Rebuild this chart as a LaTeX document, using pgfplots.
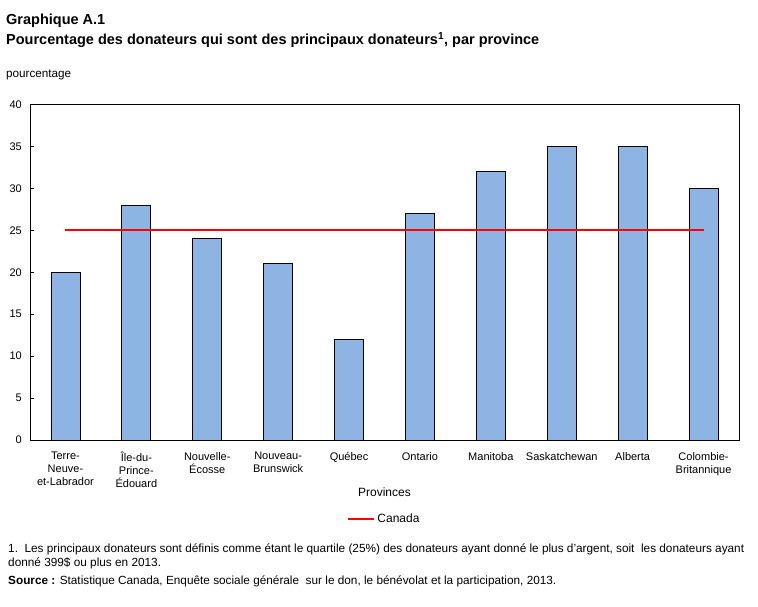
\documentclass[border=0pt]{standalone}
\usepackage{pgfplots}
\pgfplotsset{compat=1.18}
\usepackage{fontspec}
\setmainfont{Liberation Sans}
\definecolor{barblue}{HTML}{8DB4E2}
\begin{document}
\begin{tikzpicture}[x=1pt,y=1pt]
\path (0,0) rectangle (758,-607);
\node[anchor=base west,inner sep=0pt,font=\fontsize{14.5}{16}\selectfont\bfseries] at (6,-25) {Graphique A.1};
\node[anchor=base west,inner sep=0pt,font=\fontsize{14.5}{16}\selectfont\bfseries] at (6,-45) {Pourcentage des donateurs qui sont des principaux donateurs\textsuperscript{1}, par province};
\node[anchor=base west,inner sep=0pt,font=\fontsize{11.7}{13}\selectfont] at (6,-78) {pourcentage};
\begin{axis}[
  at={(30pt,-440pt)}, anchor=south west,
  scale only axis, width=709pt, height=335.5pt,
  xmin=-0.5, xmax=9.5, ymin=0, ymax=40,
  ytick={0,5,...,40},
  xtick={0,...,9},
  xticklabels={Terre-\\Neuve-\\et-Labrador, Île-du-\\Prince-\\Édouard, Nouvelle-\\Écosse, Nouveau-\\Brunswick, Québec, Ontario, Manitoba, Saskatchewan, Alberta, Colombie-\\Britannique},
  xticklabel style={align=center, font=\fontsize{11}{13}\selectfont, inner sep=0pt, yshift=-12pt},
  yticklabel style={font=\fontsize{11}{13}\selectfont, inner sep=0pt, xshift=-8pt},
  /pgf/number format/assume math mode=true,
  x tick style={draw=none},
  y tick style={black, line width=0.8pt},
  major tick length=4pt,
  tick align=inside,
  ytick pos=left,
  axis line style={black, line width=0.9pt},
  xlabel={Provinces},
  xlabel style={font=\fontsize{12}{14}\selectfont, at={(axis description cs:0.5,0)}, anchor=base, yshift=-56pt},
  legend style={at={(axis description cs:0.5,0)}, anchor=north, yshift=-72pt, draw=none, font=\fontsize{12}{14}\selectfont, legend cell align=left, inner sep=0pt},
  legend image code/.code={\draw[#1, line width=2pt] (0pt,0pt) -- (26pt,0pt);},
]
\addplot[ybar, bar width=29pt, fill=barblue, draw=black, line width=0.9pt, forget plot] coordinates {
(0,20) (1,28) (2,24) (3,21) (4,12) (5,27) (6,32) (7,35) (8,35) (9,30)};
\addplot[red, line width=2pt, mark=none] coordinates {(0,25) (9,25)};
\addlegendentry{Canada}
\end{axis}
\node[anchor=base west,inner sep=0pt,font=\fontsize{11.8}{13}\selectfont] at (8,-552) {1.\ \ Les principaux donateurs sont définis comme étant le quartile (25\%) des donateurs ayant donné le plus d'argent, soit\ \ les donateurs ayant};
\node[anchor=base west,inner sep=0pt,font=\fontsize{11.8}{13}\selectfont] at (8,-566) {donné 399\$ ou plus en 2013.};
\node[anchor=base west,inner sep=0pt,font=\fontsize{11.8}{13}\selectfont] at (8,-584) {\textbf{Source :} Statistique Canada, Enquête sociale générale\ \ sur le don, le bénévolat et la participation, 2013.};
\end{tikzpicture}
\end{document}
